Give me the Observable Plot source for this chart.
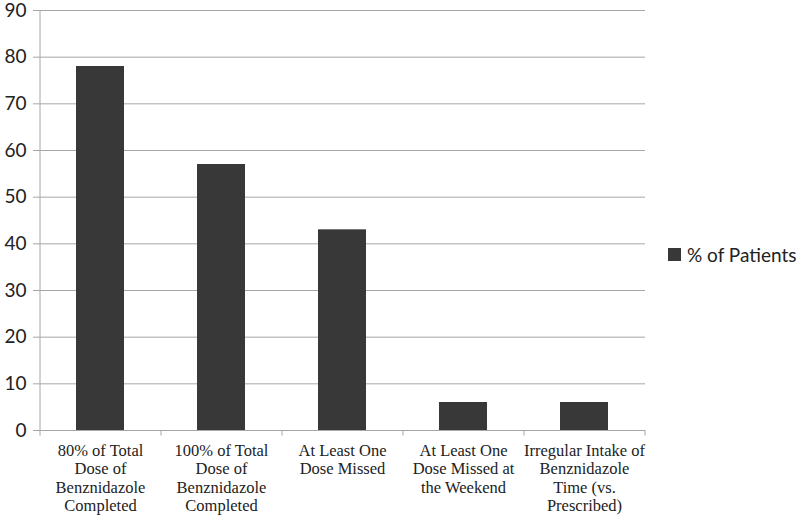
<!DOCTYPE html>
<html>
<head>
<meta charset="utf-8">
<script src="https://cdn.jsdelivr.net/npm/d3@7"></script>
<script src="https://cdn.jsdelivr.net/npm/@observablehq/plot@0.6"></script>
<style>
  body { margin: 0; background: #fff; }
  #wrap { position: relative; width: 800px; height: 516px; }
  #legend { position: absolute; left: 668px; top: 243px; font-family: Lato, "Open Sans", sans-serif; font-size: 19px; color: #222; display: flex; align-items: center; }
  #legend span.sw { display: inline-block; width: 13px; height: 13px; background: #383838; margin-right: 6px; }
</style>
</head>
<body>
<div id="wrap"></div>
<script>
const categories = ["c1", "c2", "c3", "c4", "c5"];
const labels = [
  "80% of Total\nDose of\nBenznidazole\nCompleted",
  "100% of Total\nDose of\nBenznidazole\nCompleted",
  "At Least One\nDose Missed",
  "At Least One\nDose Missed at\nthe Weekend",
  "Irregular Intake of\nBenznidazole\nTime (vs.\nPrescribed)"
];
const values = [78, 57, 43, 6, 6];
const yTicks = [0, 10, 20, 30, 40, 50, 60, 70, 80, 90];
const seriesName = "% of Patients";

const data = categories.map((c, i) => ({cat: c, label: labels[i], value: values[i]}));
const labelOf = new Map(categories.map((c, i) => [c, labels[i]]));

const W = 800, H = 516;
const mL = 40, mR = 155;
const step = (W - mL - mR) / categories.length;
const gray = "#a6a6a6";

const chart = Plot.plot({
  width: W,
  height: H,
  marginLeft: mL,
  marginRight: mR,
  marginTop: 10,
  marginBottom: 86,
  style: {background: "#fff"},
  x: {domain: categories, paddingInner: 0.6, paddingOuter: 0.3, label: null},
  y: {domain: [0, 90], ticks: yTicks, label: null},
  marks: [
    Plot.gridY(yTicks, {stroke: gray, strokeOpacity: 1, strokeWidth: 1}),
    Plot.barY(data, {x: "cat", y: "value", fill: "#383838"}),
    Plot.ruleX([categories[0]], {x: d => d, y1: 0, y2: 90, dx: -step / 2, stroke: gray}),
    Plot.ruleX(categories, {x: d => d, y1: 0, y2: -1.2, dx: -step / 2, stroke: gray}),
    Plot.ruleX([categories[categories.length - 1]], {x: d => d, y1: 0, y2: -1.2, dx: step / 2, stroke: gray}),
    Plot.ruleY([0], {stroke: gray}),
    Plot.axisY(yTicks, {tickSize: 7, tickPadding: 7, stroke: gray, strokeOpacity: 1, fontSize: 19, fontFamily: "Lato, 'Open Sans', sans-serif", fill: "#222", textStroke: "none"}),
    Plot.axisX(categories, {tickSize: 0, tickPadding: 12, tickFormat: d => labelOf.get(d), fontSize: 16.5, lineHeight: 1.12, fontFamily: "'Liberation Serif', 'DejaVu Serif', serif", fill: "#222", label: null})
  ]
});
document.getElementById("wrap").appendChild(chart);

const lg = document.createElement("div");
lg.id = "legend";
lg.innerHTML = `<span class="sw"></span><span>${seriesName}</span>`;
document.getElementById("wrap").appendChild(lg);
</script>
</body>
</html>
